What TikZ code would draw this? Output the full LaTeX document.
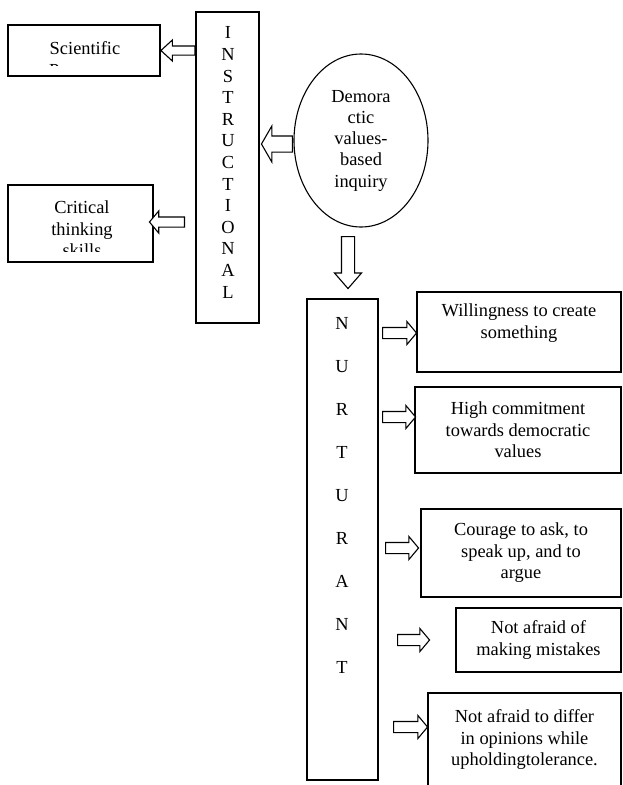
\documentclass[tikz,border=0pt]{standalone}
\usepackage{fontspec}
\setmainfont{Liberation Serif}
\usetikzlibrary{shapes.geometric,shapes.arrows}
\begin{document}
\begin{tikzpicture}[x=1pt,y=-1pt,line width=1.1pt,
every node/.style={font=\fontsize{18.4}{21.5}\selectfont},
box/.style={draw,rectangle,inner sep=0pt,align=center},
txt/.style={inner sep=0pt,align=center},
harrow/.style 2 args={single arrow,draw,fill=white,line width=1.1pt,inner sep=0pt,
  text height=#1,text depth=0pt,single arrow head extend=#2,
  single arrow head indent=0pt,anchor=tail}]
\useasboundingbox (0,0) rectangle (622,785);
\clip (0,0) rectangle (622,785);
\node[box,minimum width=152,minimum height=51] (sci) at (84,50.5) {};
\node[box,minimum width=145,minimum height=77] (crit) at (80.5,223.5) {};
\begin{scope}
\clip (sci.north west) rectangle (160,65.5);
\node[txt,anchor=north] (sciT) at (85,41.4) {Scientific\\Processes};
\end{scope}
\begin{scope}
\clip (crit.north west) rectangle (153,251);
\node[txt,anchor=north] (critT) at (82,200.4) {Critical\\thinking\\skills};
\end{scope}
\node[box,minimum width=63,minimum height=311] (instr) at (227.5,167.5) {};
\node[txt,font=\fontsize{18.4}{21.6}\selectfont] (instrT) at (228,162.5)
  {I\\N\\S\\T\\R\\U\\C\\T\\I\\O\\N\\A\\L};
\node[draw,ellipse,inner sep=0pt,minimum width=134,minimum height=173,align=center,
  font=\fontsize{18.4}{21.25}\selectfont] (ell) at (361,140.5)
  {Demora\\ctic\\values-\\based\\inquiry};
\node[box,minimum width=71,minimum height=481] (nurt) at (342.5,539.5) {};
\node[txt,font=\fontsize{18.4}{43}\selectfont] (nurtT) at (342,495)
  {N\\U\\R\\T\\U\\R\\A\\N\\T};
\node[box,minimum width=204,minimum height=80] (will) at (519,332)
  {Willingness to create\\something\\\mbox{}};
\node[box,minimum width=206,minimum height=86] (comm) at (518,430)
  {High commitment\\towards democratic\\values};
\node[box,minimum width=200,minimum height=88] (cour) at (521,553)
  {Courage to ask, to\\speak up, and to\\argue};
\node[box,minimum width=165,minimum height=64] (mist) at (538.5,640)
  {Not afraid of\\making mistakes};
\node[box,minimum width=193,minimum height=93] (diff) at (524.5,739.5)
  {Not afraid to differ\\in opinions while\\upholdingtolerance.};
\node[harrow={8pt}{6pt},rotate=180,minimum height=34,single arrow tip angle=85] (a1) at (instr.west |- sci.east) {};
\node[harrow={9pt}{6pt},rotate=180,minimum height=35,single arrow tip angle=100] (a2) at (185,222) {};
\node[harrow={15pt}{10pt},rotate=180,minimum height=31,single arrow tip angle=120] (a3) at (293,144) {};
\node[harrow={12pt}{7pt},rotate=-90,minimum height=52,single arrow tip angle=82] (a4) at (348,236) {};
\node[harrow={10pt}{6pt},minimum height=34,single arrow tip angle=100] (a5) at (382,333) {};
\node[harrow={10pt}{6pt},minimum height=33,single arrow tip angle=100] (a6) at (382,417) {};
\node[harrow={10pt}{6pt},minimum height=33,single arrow tip angle=100] (a7) at (385,548) {};
\node[harrow={10pt}{6pt},minimum height=32,single arrow tip angle=100] (a8) at (397,640) {};
\node[harrow={10pt}{6pt},minimum height=34,single arrow tip angle=100] (a9) at (393,727) {};
\end{tikzpicture}
\end{document}
